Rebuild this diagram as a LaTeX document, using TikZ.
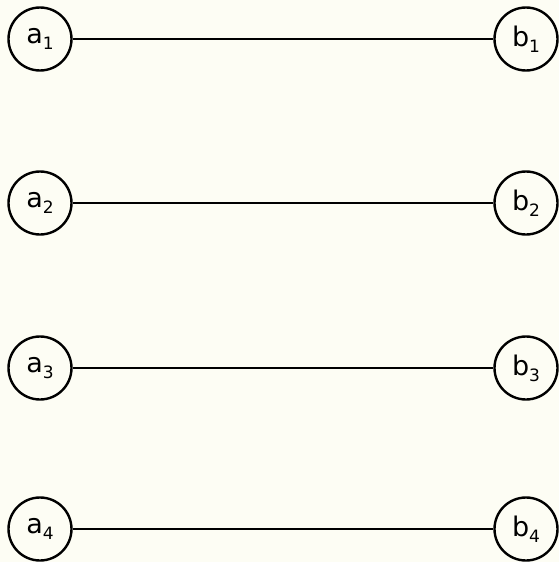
\documentclass[tikz,border=0pt]{standalone}
\usepackage{fontspec}
\setsansfont{DejaVu Sans}
\usepackage{xcolor}
\definecolor{paper}{RGB}{253,253,244}
\newcommand{\sublbl}[2]{#1\raisebox{-0.4ex}{\fontsize{17}{17}\selectfont #2}}

\begin{document}
\begin{tikzpicture}[x=1pt,y=-1pt,
  vtx/.style={circle,draw,line width=2.4pt,fill=paper,minimum size=63pt,inner sep=0pt,
    font=\sffamily\fontsize{27}{27}\selectfont},
  edg/.style={line width=2.4pt}]
  \fill[paper] (0,0) rectangle (559,562);
  \useasboundingbox (0,0) rectangle (559,562);
  \node[vtx] (a1) at (40,39) {\sublbl{a}{1}};
  \node[vtx] (b1) at (526,39) {\sublbl{b}{1}};
  \node[vtx] (a2) at (40,203) {\sublbl{a}{2}};
  \node[vtx] (b2) at (526,203) {\sublbl{b}{2}};
  \node[vtx] (a3) at (40,368) {\sublbl{a}{3}};
  \node[vtx] (b3) at (526,368) {\sublbl{b}{3}};
  \node[vtx] (a4) at (40,529) {\sublbl{a}{4}};
  \node[vtx] (b4) at (526,529) {\sublbl{b}{4}};
  \draw[edg] (a1)--(b1);
  \draw[edg] (a2)--(b2);
  \draw[edg] (a3)--(b3);
  \draw[edg] (a4)--(b4);
\end{tikzpicture}
\end{document}
